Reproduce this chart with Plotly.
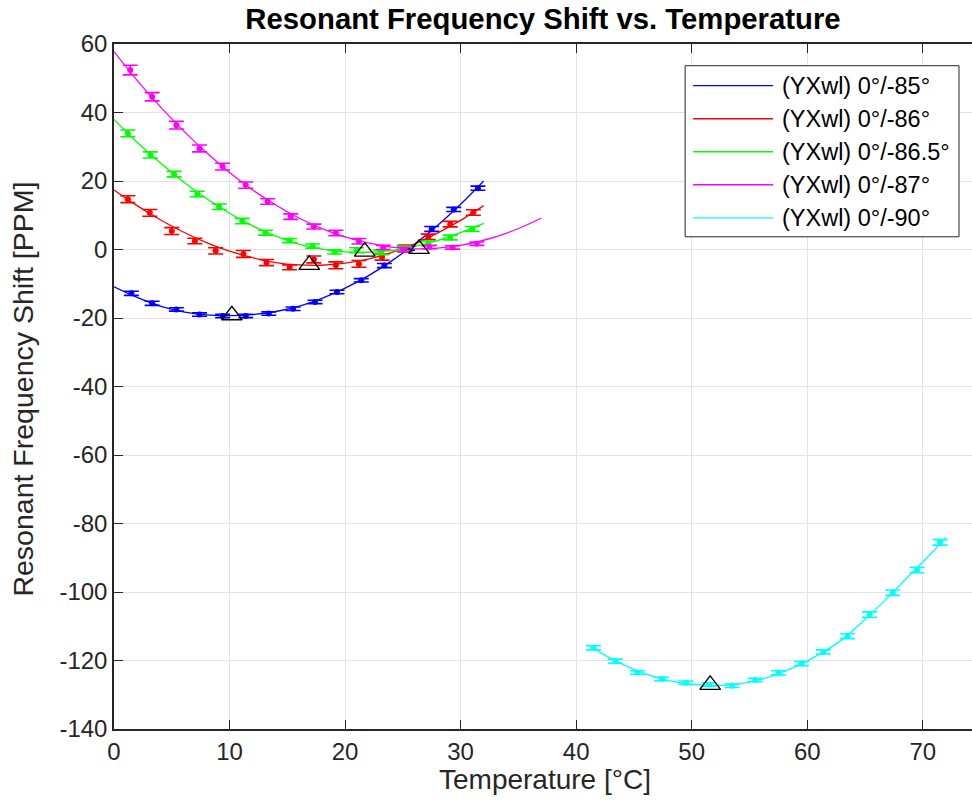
import plotly.graph_objects as go

# ---------------- data ----------------
series_names = ["(YXwl) 0°/-85°", "(YXwl) 0°/-86°", "(YXwl) 0°/-86.5°", "(YXwl) 0°/-87°", "(YXwl) 0°/-90°"]
series_colors = ["#0000ff", "#ff0000", "#00ff00", "#ff00ff", "#00ffff"]

blue_x = [1.5, 3.3, 5.4, 7.4, 9.4, 11.4, 13.4, 15.5, 17.4, 19.3, 21.4, 23.4, 25.4, 27.5, 29.4, 31.5]
blue_y = [-12.8, -15.7, -17.5, -19.0, -19.4, -19.4, -18.7, -17.3, -15.3, -12.4, -9.0, -4.7, 0.4, 6.0, 11.7, 17.9]
blue_err = [0.6, 0.6, 0.5, 0.5, 0.5, 0.5, 0.5, 0.5, 0.5, 0.5, 0.5, 0.6, 0.6, 0.7, 0.6, 0.6]

red_x = [1.2, 3.1, 5.0, 7.0, 8.8, 11.2, 13.2, 15.2, 17.3, 19.2, 21.2, 23.2, 25.2, 27.2, 29.1, 31.1]
red_y = [14.7, 10.7, 5.4, 2.5, -0.4, -1.3, -3.8, -5.2, -2.9, -4.6, -4.2, -2.2, 0.3, 3.7, 7.4, 10.8]
red_err = [1.0, 1.0, 1.0, 0.8, 0.9, 1.0, 0.9, 0.7, 1.0, 1.0, 1.0, 0.9, 1.0, 0.8, 0.8, 0.8]

green_x = [1.2, 3.15, 5.2, 7.2, 9.1, 11.1, 13.1, 15.2, 17.2, 19.1, 21.0, 23.1, 25.1, 27.2, 29.1, 31.0]
green_y = [33.9, 27.6, 22.0, 16.2, 12.5, 8.3, 4.9, 2.6, 1.0, -0.7, -0.2, -0.8, 0.3, 1.8, 3.5, 6.0]
green_err = [1.0, 0.9, 0.8, 0.8, 0.8, 0.8, 0.7, 0.6, 0.6, 0.6, 0.7, 0.7, 0.7, 0.7, 0.7, 0.7]

magenta_x = [1.4, 3.3, 5.4, 7.4, 9.4, 11.4, 13.3, 15.3, 17.3, 19.2, 21.2, 23.3, 25.1, 27.3, 29.3, 31.4]
magenta_y = [52.4, 44.6, 36.3, 29.5, 24.2, 18.8, 14.0, 9.6, 6.7, 4.8, 2.4, 0.6, 0.0, 0.7, 0.6, 1.7]
magenta_err = [1.4, 1.2, 1.1, 1.0, 1.0, 0.9, 0.8, 0.8, 0.7, 0.8, 0.8, 0.6, 0.6, 0.5, 0.5, 0.5]

cyan_x = [41.5, 43.4, 45.3, 47.4, 49.5, 51.5, 53.5, 55.5, 57.5, 59.5, 61.4, 63.5, 65.4, 67.4, 69.5, 71.5]
cyan_y = [-116.3, -120.2, -123.5, -125.4, -126.5, -127.0, -127.4, -125.7, -123.6, -120.9, -117.5, -112.9, -106.6, -100.2, -93.6, -85.5]
cyan_err = [0.6, 0.6, 0.5, 0.5, 0.5, 0.5, 0.5, 0.5, 0.6, 0.6, 0.6, 0.7, 0.8, 0.8, 0.8, 0.8]

# fitted curves
blue_fit_x = [0, 2, 4, 6, 8, 10, 12, 14, 16, 18, 20, 22, 24, 26, 28, 30, 32]
blue_fit_y = [-10.9, -14.0, -16.5, -18.2, -19.1, -19.3, -19.0, -18.1, -16.6, -14.3, -11.3, -7.7, -3.4, 1.5, 7.0, 13.2, 20.0]
red_fit_x = [0, 2, 4, 6, 8, 10, 12, 14, 16, 18, 20, 22, 24, 26, 28, 30, 32]
red_fit_y = [17.4, 12.8, 8.7, 5.1, 2.0, -0.5, -2.4, -3.8, -4.5, -4.6, -4.0, -2.8, -0.9, 1.6, 4.8, 8.5, 12.8]
green_fit_x = [0, 2, 4, 6, 8, 10, 12, 14, 16, 18, 20, 22, 24, 26, 28, 30, 32]
green_fit_y = [38.0, 31.3, 25.3, 19.8, 14.9, 10.6, 6.9, 3.9, 1.6, 0.1, -0.7, -0.8, -0.3, 0.9, 2.6, 4.9, 7.6]
magenta_fit_x = [0, 2, 4, 6, 8, 10, 12, 14, 16, 18, 20, 22, 24, 26, 28, 30, 32, 34, 36, 37]
magenta_fit_y = [57.8, 49.4, 41.7, 34.7, 28.3, 22.5, 17.4, 13.0, 9.2, 6.1, 3.7, 1.9, 0.7, 0.2, 0.4, 1.2, 2.7, 4.8, 7.6, 9.2]
cyan_fit_x = [41.2, 43, 45, 47, 49, 51, 53, 55, 57, 59, 61, 63, 65, 67, 69, 71, 72]
cyan_fit_y = [-115.8, -119.4, -122.6, -125.0, -126.5, -127.2, -127.2, -126.3, -124.5, -121.8, -118.3, -113.9, -108.0, -101.5, -94.6, -87.8, -84.0]

turnover_x = [10.2, 16.9, 21.7, 26.4, 51.6]
turnover_y = [-19.2, -4.5, -0.6, 0.2, -127.1]

x_ticks = [0, 10, 20, 30, 40, 50, 60, 70]
x_tick_labels = ["0", "10", "20", "30", "40", "50", "60", "70"]
y_ticks = [-140, -120, -100, -80, -60, -40, -20, 0, 20, 40, 60]
y_tick_labels = ["-140", "-120", "-100", "-80", "-60", "-40", "-20", "0", "20", "40", "60"]

title_text = "Resonant Frequency Shift vs. Temperature"
x_title = "Temperature [°C]"
y_title = "Resonant Frequency Shift [PPM]"

# ---------------- figure ----------------
W, H = 972, 812
L, R, T, B = 113.6, 972, 44, 728.7
FONT = "Liberation Sans, Arial, Helvetica, sans-serif"
AXC = "#262626"

pts = [(blue_x, blue_y, blue_err), (red_x, red_y, red_err), (green_x, green_y, green_err),
       (magenta_x, magenta_y, magenta_err), (cyan_x, cyan_y, cyan_err)]
fits = [(blue_fit_x, blue_fit_y), (red_fit_x, red_fit_y), (green_fit_x, green_fit_y),
        (magenta_fit_x, magenta_fit_y), (cyan_fit_x, cyan_fit_y)]

fig = go.Figure()
for (fx, fy), col, name in zip(fits, series_colors, series_names):
    fig.add_trace(go.Scatter(x=fx, y=fy, mode="lines", line=dict(color=col, width=1.3, shape="spline"),
                             name=name, showlegend=False, hoverinfo="skip"))
for (px_, py_, pe), col in zip(pts, series_colors):
    fig.add_trace(go.Scatter(x=px_, y=py_, mode="markers", marker=dict(color=col, size=6),
                             error_y=dict(type="data", array=pe, visible=True, color=col, thickness=1.6, width=7.5),
                             showlegend=False))
fig.add_trace(go.Scatter(x=turnover_x, y=turnover_y, mode="markers",
                         marker=dict(symbol="triangle-up-open", size=18, color="black", line=dict(width=1.3)),
                         showlegend=False))

def pxx(v):
    return (v - L) / (R - L)

def pxy(v):
    return (B - v) / (B - T)

shapes = []
annotations = []
# legend box
shapes.append(dict(type="rect", xref="paper", yref="paper", x0=pxx(685), x1=pxx(959), y0=pxy(236.7), y1=pxy(65.7),
                   line=dict(color=AXC, width=1), fillcolor="white", layer="above"))
for i, (name, col) in enumerate(zip(series_names, series_colors)):
    yy = 85.7 + i * 33
    shapes.append(dict(type="line", xref="paper", yref="paper", x0=pxx(693), x1=pxx(773), y0=pxy(yy), y1=pxy(yy),
                       line=dict(color=col, width=1.3), layer="above"))
    annotations.append(dict(xref="paper", yref="paper", x=pxx(780), y=pxy(yy), text=name, showarrow=False,
                            xanchor="left", yanchor="middle", font=dict(family=FONT, size=23.5, color="black")))

# axis titles
annotations.append(dict(xref="paper", yref="paper", x=pxx(545), y=pxy(779), text=x_title, showarrow=False,
                        xanchor="center", yanchor="middle", font=dict(family=FONT, size=28, color=AXC)))
annotations.append(dict(xref="paper", yref="paper", x=pxx(23), y=pxy(389), text=y_title, showarrow=False,
                        textangle=-90, xanchor="center", yanchor="middle", font=dict(family=FONT, size=28.5, color=AXC)))

fig.update_layout(
    width=W, height=H,
    margin=dict(l=L, r=W - R, t=T, b=H - B, pad=0),
    paper_bgcolor="white", plot_bgcolor="white",
    title=dict(text=title_text, x=0.5, xref="paper", y=1 - 19 / H, yref="container", yanchor="middle",
               xanchor="center", font=dict(family=FONT, size=29.3, color="black", weight="bold")),
    shapes=shapes, annotations=annotations,
    showlegend=False,
    font=dict(family=FONT, color=AXC),
)
fig.update_xaxes(range=[0, (R - L) / 11.559], tickvals=x_ticks, ticktext=x_tick_labels, ticks="inside", ticklen=9,
                 tickwidth=1.2, tickcolor=AXC, showline=True, linecolor=AXC, linewidth=1.5, mirror="ticks",
                 showgrid=True, gridcolor="#e3e3e3", gridwidth=1, zeroline=False,
                 tickfont=dict(family=FONT, size=24, color=AXC))
fig.update_yaxes(range=[-140, 60], tickvals=y_ticks, ticktext=y_tick_labels, ticks="inside", ticklen=9,
                 tickwidth=1.2, tickcolor=AXC, showline=True, linecolor=AXC, linewidth=1.5, mirror=False,
                 showgrid=True, gridcolor="#e3e3e3", gridwidth=1, zeroline=False,
                 tickfont=dict(family=FONT, size=24, color=AXC))

fig.write_html("out.html")
